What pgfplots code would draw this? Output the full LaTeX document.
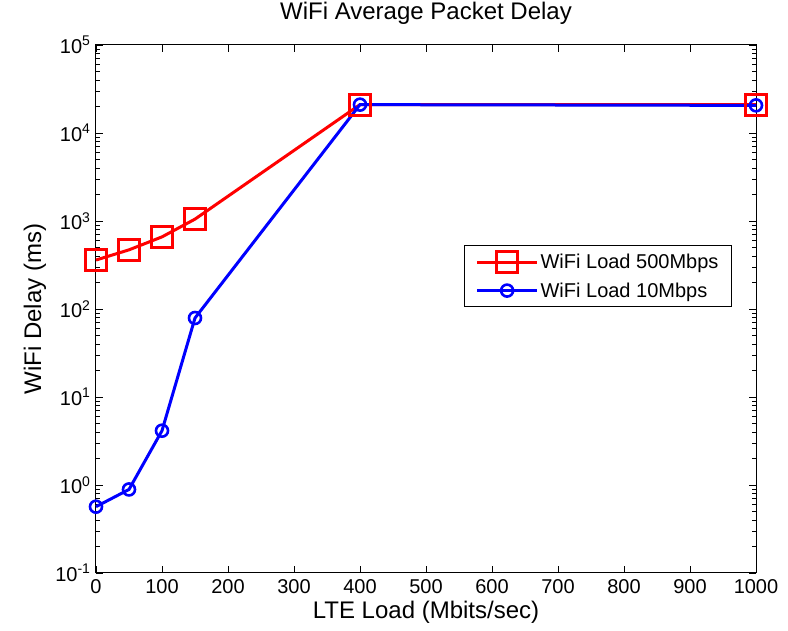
\documentclass[border=0pt]{standalone}
\usepackage{fontspec}
\setmainfont{Liberation Sans}
\usepackage{pgfplots}
\pgfplotsset{compat=1.18}
\begin{document}
\begin{tikzpicture}
\begin{axis}[
  scale only axis, width=660pt, height=528pt,
  ymode=log, xmin=0, xmax=1000, ymin=0.1, ymax=100000,
  xtick={0,100,...,1000},
  xticklabels={0,100,200,300,400,500,600,700,800,900,1000},
  ytick={0.1,1,10,100,1000,10000,100000},
  yticklabels={10\textsuperscript{-1},10\textsuperscript{0},10\textsuperscript{1},10\textsuperscript{2},10\textsuperscript{3},10\textsuperscript{4},10\textsuperscript{5}},
  /pgf/number format/assume math mode=true,
  tick align=inside, tick pos=both,
  major tick length=7pt, minor tick length=4pt,
  every tick/.style={black, line width=0.6pt},
  axis line style={black, line width=1pt},
  ticklabel style={font=\fontsize{20}{24}\selectfont},
  xticklabel style={yshift=-3pt},
  yticklabel style={xshift=-2pt},
  title={WiFi Average Packet Delay},
  title style={font=\fontsize{24}{28}\selectfont, at={(axis description cs:0.5,1.049)}, anchor=center},
  xlabel={LTE Load (Mbits/sec)},
  ylabel={WiFi Delay (ms)},
  every axis x label/.style={at={(axis description cs:0.5,-0.0739)}, anchor=center, font=\fontsize{24}{28}\selectfont},
  every axis y label/.style={at={(axis description cs:-0.0924,0.5)}, rotate=90, anchor=center, font=\fontsize{24}{28}\selectfont},
  legend style={at={(axis description cs:0.9636,0.621)}, anchor=north east, draw=black, line width=1pt, font=\fontsize{20}{24}\selectfont, inner xsep=11pt, inner ysep=6pt, row sep=8pt},
  legend cell align=left,
  legend image code/.code={\draw[#1] (0pt,0pt) -- (60pt,0pt); \draw[#1, solid] plot coordinates {(30pt,0pt)};},
  clip=false,
]
\addplot[color=red, line width=3pt, mark=square, mark size=10.5pt, mark options={line width=3pt, fill=none}]
  coordinates {(0,360) (50,470) (100,660) (150,1050) (400,21000) (1000,21000)};
\addlegendentry{WiFi Load 500Mbps}
\addplot[color=blue, line width=3pt, mark=o, mark size=6pt, mark options={line width=2.6pt, fill=none}]
  coordinates {(0,0.567) (50,0.89) (100,4.14) (150,79) (400,21000) (1000,20600)};
\addlegendentry{WiFi Load 10Mbps}
\coordinate (sw) at (rel axis cs:0,0);
\coordinate (ne) at (rel axis cs:1,1);
\end{axis}
\pgfresetboundingbox
\path ([shift={(-96pt,-58pt)}]sw) rectangle ([shift={(32pt,45pt)}]ne);
\end{tikzpicture}
\end{document}
